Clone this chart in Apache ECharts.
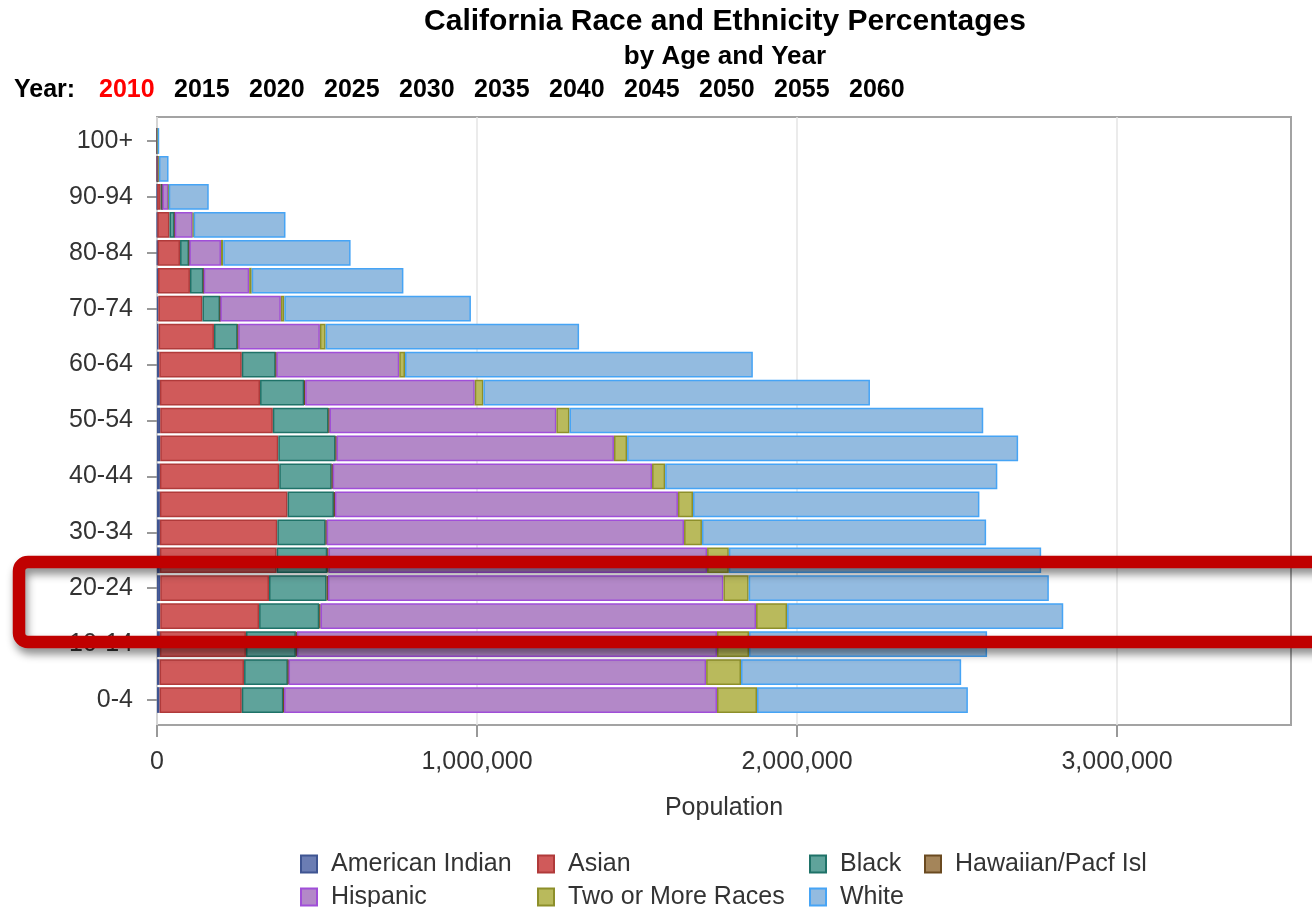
<!DOCTYPE html>
<html><head><meta charset="utf-8">
<script src="https://cdn.jsdelivr.net/npm/echarts/dist/echarts.min.js"></script>
<style>html,body{margin:0;padding:0;background:#fff}#c{width:1312px;height:907px}</style>
</head><body><div id="c"></div>
<script>
// Age groups, bottom (youngest) to top (oldest)
const ageGroups = ['0-4','5-9','10-14','15-19','20-24','25-29','30-34','35-39','40-44','45-49','50-54','55-59','60-64','65-69','70-74','75-79','80-84','85-89','90-94','95-99','100+'];

// Population by group (year 2010)
const americanIndian = [8000,8000,9000,10000,10000,9000,9000,9000,9000,10000,10000,9000,7000,5000,4000,3000,2000,1000,500,200,50];
const asian          = [257000,264000,269000,309000,340000,365000,367000,399000,373000,369000,352000,313000,258000,173000,138000,100000,70000,38000,11000,1500,500];
const black          = [130000,137000,156000,188000,180000,158000,151000,145000,164000,179000,174000,138000,106000,74000,55000,42000,28000,16000,5000,1000,300];
const hawaiian       = [2000,2000,3000,4000,4000,4000,3000,3000,3000,3000,3000,3000,2000,2000,1000,1000,1000,500,200,50,10];
const hispanic       = [1353000,1305000,1313000,1361000,1236000,1183000,1117000,1072000,998000,867000,709000,530000,384000,255000,189000,142000,99000,56000,19000,3000,1000];
const twoOrMore      = [125000,109000,100000,97000,79000,68000,56000,47000,41000,41000,41000,27000,18000,18000,11000,8000,7000,3000,1000,300,100];
const white          = [659000,688000,744000,863000,938000,976000,888000,895000,1038000,1222000,1293000,1208000,1087000,792000,583000,474000,398000,287000,125000,30000,5000];

const seriesNames = ['American Indian','Asian','Black','Hawaiian/Pacf Isl','Hispanic','Two or More Races','White'];
const seriesData  = [americanIndian, asian, black, hawaiian, hispanic, twoOrMore, white];
const fills   = ['#6b7db3','#d05a5a','#5fa39b','#a4855a','#b388c8','#b9ba5c','#93bbe0'];
const borders = ['#3f5592','#b03a3a','#1f7268','#6a4a20','#a04ed8','#8d8f2a','#46a4f5'];

const xTickValues = [0, 1000000, 2000000, 3000000];
const xMax = 3543750;
const years = ['2010','2015','2020','2025','2030','2035','2040','2045','2050','2055','2060'];
const selectedYear = '2010';

const FONT = '"Liberation Sans", Arial, sans-serif';

// legend layout: [left, centerY] per series
const legendPos = [[300,862],[537,862],[809,862],[924,862],[300,895],[537,895],[809,895]];

const chart = echarts.init(document.getElementById('c'), null, {renderer:'canvas'});

const series = seriesNames.map((n,i)=>({
  name:n, type:'bar', stack:'total', xAxisIndex:0, yAxisIndex:0,
  barCategoryGap:'8%',
  data: seriesData[i],
  itemStyle:{color:fills[i], borderColor:borders[i], borderWidth:1.5},
  emphasis:{disabled:true}
}));

const legends = seriesNames.map((n,i)=>({
  data:[n], left:legendPos[i][0], top:legendPos[i][1]-10.5, orient:'horizontal', padding:0,
  icon:'rect', itemWidth:16, itemHeight:17,
  textStyle:{fontFamily:FONT, fontSize:25, color:'#333', padding:[0,0,0,9]},
  selectedMode:false
}));

const graphics = [
  {type:'text', style:{text:'California Race and Ethnicity Percentages', x:725, y:22, align:'center', verticalAlign:'middle', font:'bold 30px '+FONT, fill:'#000'}},
  {type:'text', style:{text:'by Age and Year', x:725, y:57, align:'center', verticalAlign:'middle', font:'bold 26px '+FONT, fill:'#000'}},
  {type:'text', style:{text:'Year:', x:14, y:90, align:'left', verticalAlign:'middle', font:'bold 25px '+FONT, fill:'#000'}}
];
years.forEach((y,i)=>{
  graphics.push({type:'text', style:{text:y, x:99+75*i, y:90, align:'left', verticalAlign:'middle', font:'bold 25px '+FONT, fill: y===selectedYear?'#ff0000':'#000'}});
});
graphics.push({type:'rect', z:100, shape:{x:19, y:562, width:1330, height:80, r:9},
  style:{fill:'none', stroke:'#c00000', lineWidth:12.5, shadowBlur:8, shadowOffsetX:2, shadowOffsetY:6, shadowColor:'rgba(0,0,0,0.45)'}});

const fmt = v => Number(v).toLocaleString('en-US');

chart.setOption({
  animation:false,
  textStyle:{fontFamily:FONT},
  grid:[
    {left:157, right:21, top:127, bottom:193, outerBoundsMode:'none', containLabel:false},
    {left:157, right:21, top:117, bottom:182, outerBoundsMode:'none', containLabel:false, show:true, borderColor:'#a3a3a3', borderWidth:2, backgroundColor:'transparent', z:0}
  ],
  xAxis:[
    {type:'value', gridIndex:0, min:0, max:xMax, show:false},
    {type:'value', gridIndex:1, min:0, max:xMax, interval:1000000,
      name:'Population', nameLocation:'middle', nameGap:71,
      nameTextStyle:{fontFamily:FONT, fontSize:25, color:'#333'},
      axisLine:{show:false},
      axisTick:{show:true, length:12, lineStyle:{color:'#999', width:2}, customValues:xTickValues},
      axisLabel:{fontFamily:FONT, fontSize:25, color:'#333', margin:25, formatter:fmt, customValues:xTickValues},
      splitLine:{show:true, lineStyle:{color:'#e4e4e4', width:1.5}}
    }
  ],
  yAxis:[
    {type:'category', gridIndex:0, data:ageGroups, offset:4,
      axisLine:{show:false},
      axisTick:{show:true, length:10, interval:1, alignWithLabel:true, lineStyle:{color:'#999', width:2}},
      axisLabel:{interval:1, fontFamily:FONT, fontSize:25, color:'#333', margin:20},
      splitLine:{show:false}
    },
    {type:'value', gridIndex:1, show:false, min:0, max:1}
  ],
  legend: legends,
  series: series,
  graphic: graphics
});
</script>
</body></html>
